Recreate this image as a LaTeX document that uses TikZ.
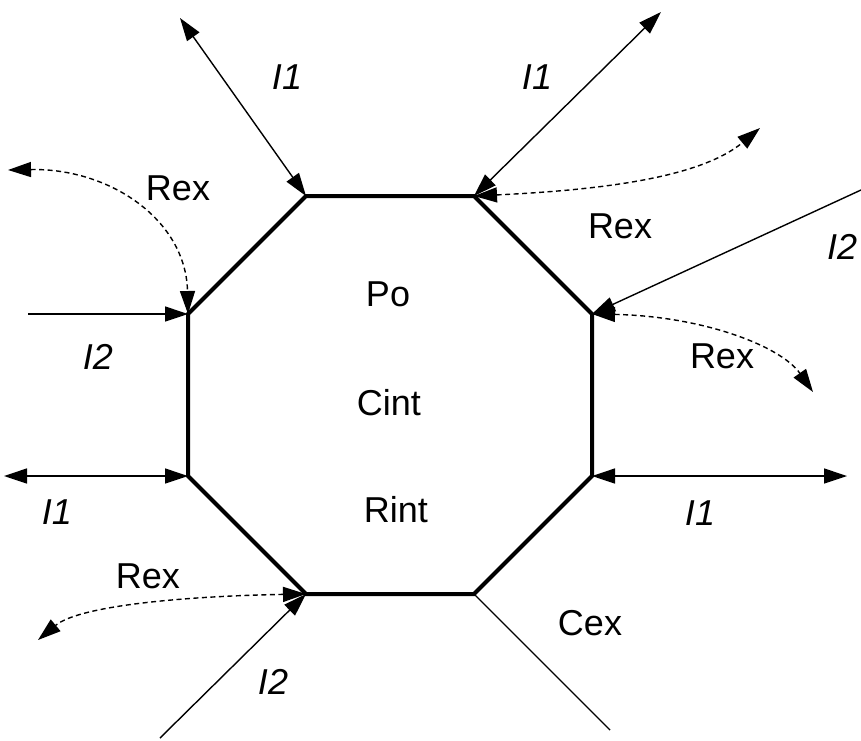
\documentclass[tikz,border=0pt]{standalone}
\usepackage{fontspec}
\setmainfont{Liberation Sans}
\usetikzlibrary{arrows.meta}
\begin{document}
\begin{tikzpicture}[x=1pt,y=-1pt,
  lbl/.style={font=\fontsize{36}{40}\selectfont, inner sep=0pt},
  ilbl/.style={font=\fontsize{36}{40}\selectfont\itshape, inner sep=0pt},
  wall/.style={line width=4pt, line join=miter},
  flow/.style={line width=1.4pt},
  rflow/.style={line width=1.4pt, dash pattern=on 5pt off 3.5pt},
  tip/.style={-{Triangle[length=23pt,width=15pt]}},
  tips/.style={{Triangle[length=23pt,width=15pt]}-{Triangle[length=23pt,width=15pt]}}]
\useasboundingbox (0,0) rectangle (861,740);
% octagon vertices
\coordinate (a) at (306,196);
\coordinate (b) at (474,196);
\coordinate (c) at (592,314);
\coordinate (d) at (592,476);
\coordinate (e) at (474,594);
\coordinate (f) at (306,594);
\coordinate (g) at (188,476);
\coordinate (h) at (188,314);
\draw[wall] (a) -- (b) -- (c) -- (d) -- (e) -- (f) -- (g) -- (h) -- cycle;
% outer ends
\coordinate (tlA) at (180,18);
\coordinate (trA) at (661,12);
\coordinate (trR) at (760,128);
\coordinate (rI2) at (861,190);
\coordinate (rR) at (813,392);
\coordinate (rI1) at (847,476);
\coordinate (cex) at (610,730);
\coordinate (bI2) at (160,738);
\coordinate (bR) at (38,640);
\coordinate (lI1) at (4,476);
\coordinate (lI2) at (28,314);
\coordinate (lR) at (8,170);
% solid flows
\draw[flow,tips] (tlA) -- (a);
\draw[flow,tips] (trA) -- (b);
\draw[flow,tip] (rI2) -- (c);
\draw[flow,tips] (d) -- (rI1);
\draw[flow] (e) -- (cex);
\draw[flow,tip] (bI2) -- (f);
\draw[flow,tips] (lI1) -- (g);
\draw[flow,tip] (lI2) -- (h);
% dashed flows
\draw[rflow,tips] (b) .. controls (600,190) and (700,178) .. (trR);
\draw[rflow,tips] (c) .. controls (700,316) and (780,345) .. (rR);
\draw[rflow,tips] (lR) .. controls (110,168) and (186,220) .. (h);
\draw[rflow,tips] (f) .. controls (190,596) and (80,605) .. (bR);
% labels
\node[ilbl] (l1) at (287,77) {I1};
\node[ilbl] (l2) at (537,77) {I1};
\node[lbl] (l3) at (178,188) {Rex};
\node[lbl] (l4) at (620,226) {Rex};
\node[ilbl] (l5) at (842,247) {I2};
\node[lbl] (l6) at (722,356) {Rex};
\node[ilbl] (l7) at (98,357) {I2};
\node[ilbl] (l8) at (57,512) {I1};
\node[lbl] (l9) at (148,576) {Rex};
\node[ilbl] (l10) at (273,682) {I2};
\node[ilbl] (l11) at (700,513) {I1};
\node[lbl] (l12) at (590,623) {Cex};
\node[lbl] (po) at (388,294) {Po};
\node[lbl] (cint) at (389,403) {Cint};
\node[lbl] (rint) at (396,510) {Rint};
\end{tikzpicture}
\end{document}
